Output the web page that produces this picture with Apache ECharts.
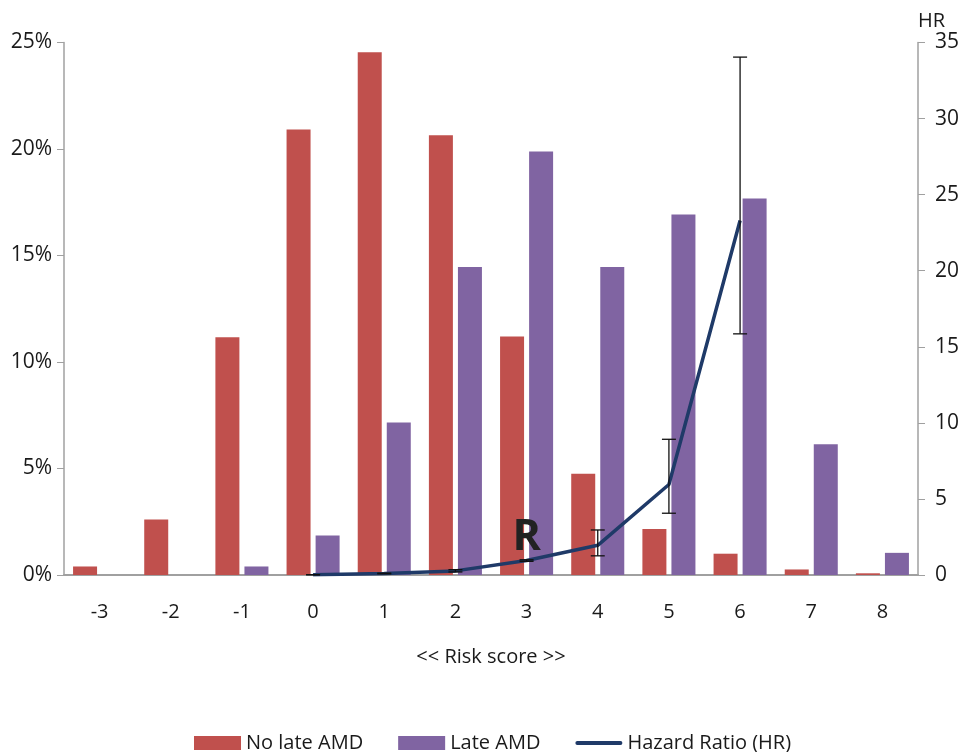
<!DOCTYPE html>
<html>
<head>
<meta charset="utf-8">
<script src="https://cdn.jsdelivr.net/npm/echarts@6/dist/echarts.min.js"></script>
<style>
  html, body { margin: 0; padding: 0; background: #fff; }
  #chart { width: 963px; height: 752px; }
</style>
</head>
<body>
<div id="chart"></div>
<script>
// Risk score categories
const riskScores = ['-3', '-2', '-1', '0', '1', '2', '3', '4', '5', '6', '7', '8'];

// Share of participants in each risk score group (%)
const noLateAMD = [0.4, 2.6, 11.16, 20.92, 24.54, 20.64, 11.2, 4.75, 2.16, 1.0, 0.26, 0.08];
const lateAMD   = [0, 0, 0.4, 1.85, 7.16, 14.46, 19.88, 14.46, 16.92, 17.68, 6.14, 1.04];

// Hazard ratio per risk score (no estimate for -3..-1)
const hazardRatio = ['-', '-', '-', 0.02, 0.1, 0.27, 0.95, 1.95, 5.95, 23.3];
// 95% confidence bounds of the hazard ratio
const hrLower = [null, null, null, 0.02, 0.08, 0.2, 0.9, 1.26, 4.06, 15.85];
const hrUpper = [null, null, null, 0.02, 0.12, 0.35, 1.0, 2.96, 8.92, 34.04];

// Left and right axis ranges
const pctAxis = { min: 0, max: 25, interval: 5 };
const hrAxis = { min: 0, max: 35, interval: 5 };

const errorData = [];
hrLower.forEach((lo, i) => {
  if (lo !== null) errorData.push([i, lo, hrUpper[i]]);
});

const FONT = '"Open Sans", "Noto Sans", sans-serif';
const TEXT = '#1a1a1a';
const AXIS = '#a0a0a0';
const LINE = '#1F3A68';

const chart = echarts.init(document.getElementById('chart'), null, { renderer: 'canvas' });

chart.setOption({
  animation: false,
  textStyle: { fontFamily: FONT, color: TEXT },
  grid: { left: 64, right: 45, top: 42.5, bottom: 177, containLabel: false },
  legend: {
    bottom: -6,
    left: 189,
    itemWidth: 47,
    itemHeight: 14,
    itemGap: 35,
    textStyle: { fontFamily: FONT, fontSize: 20, color: TEXT },
    data: [
      { name: 'No late AMD', icon: 'rect' },
      { name: 'Late AMD', icon: 'rect' },
      { name: 'Hazard Ratio (HR)', icon: 'path://M2,0 L48,0 A2,2 0 0 1 48,4 L2,4 A2,2 0 0 1 2,0 Z' }
    ]
  },
  xAxis: {
    type: 'category',
    data: riskScores,
    name: '<< Risk score >>',
    nameLocation: 'middle',
    nameGap: 72,
    nameTextStyle: { fontFamily: FONT, fontSize: 20, color: TEXT },
    axisLine: { lineStyle: { color: AXIS, width: 2 } },
    axisTick: { show: false },
    axisLabel: { fontFamily: FONT, fontSize: 20, color: TEXT, margin: 27 }
  },
  yAxis: [
    {
      type: 'value',
      min: pctAxis.min, max: pctAxis.max, interval: pctAxis.interval,
      splitLine: { show: false },
      axisLine: { show: true, lineStyle: { color: AXIS, width: 1.5 } },
      axisTick: { show: true, length: 7, lineStyle: { color: AXIS } },
      axisLabel: { fontFamily: FONT, fontSize: 21, color: TEXT, margin: 12, formatter: '{value}%' }
    },
    {
      type: 'value',
      min: hrAxis.min, max: hrAxis.max, interval: hrAxis.interval,
      name: 'HR',
      nameLocation: 'end',
      nameGap: 11,
      nameTextStyle: { fontFamily: FONT, fontSize: 20, color: TEXT, align: 'left' },
      splitLine: { show: false },
      axisLine: { show: true, lineStyle: { color: AXIS, width: 1.5 } },
      axisTick: { show: true, length: 7, lineStyle: { color: AXIS } },
      axisLabel: { fontFamily: FONT, fontSize: 21, color: TEXT, margin: 17 }
    }
  ],
  series: [
    {
      name: 'No late AMD',
      type: 'bar',
      data: noLateAMD,
      barWidth: 24,
      barGap: '21%',
      itemStyle: { color: '#C0504D' }
    },
    {
      name: 'Late AMD',
      type: 'bar',
      data: lateAMD,
      barWidth: 24,
      itemStyle: { color: '#8064A2' }
    },
    {
      name: 'Hazard Ratio (HR)',
      type: 'line',
      yAxisIndex: 1,
      data: hazardRatio,
      symbol: 'none',
      z: 5,
      lineStyle: { color: LINE, width: 3.5 },
      itemStyle: { color: LINE },
      markPoint: {
        symbol: 'circle',
        symbolSize: 1,
        itemStyle: { color: 'rgba(0,0,0,0)' },
        label: {
          show: true,
          position: 'inside',
          formatter: 'R',
          fontFamily: FONT,
          fontWeight: 'bold',
          fontSize: 43,
          color: '#222'
        },
        data: [{ coord: ['3', 2.45] }]
      }
    },
    {
      name: 'HR 95% CI',
      type: 'custom',
      yAxisIndex: 1,
      z: 6,
      data: errorData,
      renderItem: function (params, api) {
        const x = api.value(0);
        const lo = api.coord([x, api.value(1)]);
        const hi = api.coord([x, api.value(2)]);
        const half = 7;
        const style = { stroke: '#111', lineWidth: 1.3 };
        return {
          type: 'group',
          children: [
            { type: 'line', shape: { x1: hi[0], y1: hi[1], x2: lo[0], y2: lo[1] }, style: style },
            { type: 'line', shape: { x1: hi[0] - half, y1: hi[1], x2: hi[0] + half, y2: hi[1] }, style: style },
            { type: 'line', shape: { x1: lo[0] - half, y1: lo[1], x2: lo[0] + half, y2: lo[1] }, style: style }
          ]
        };
      }
    }
  ]
});
</script>
</body>
</html>
